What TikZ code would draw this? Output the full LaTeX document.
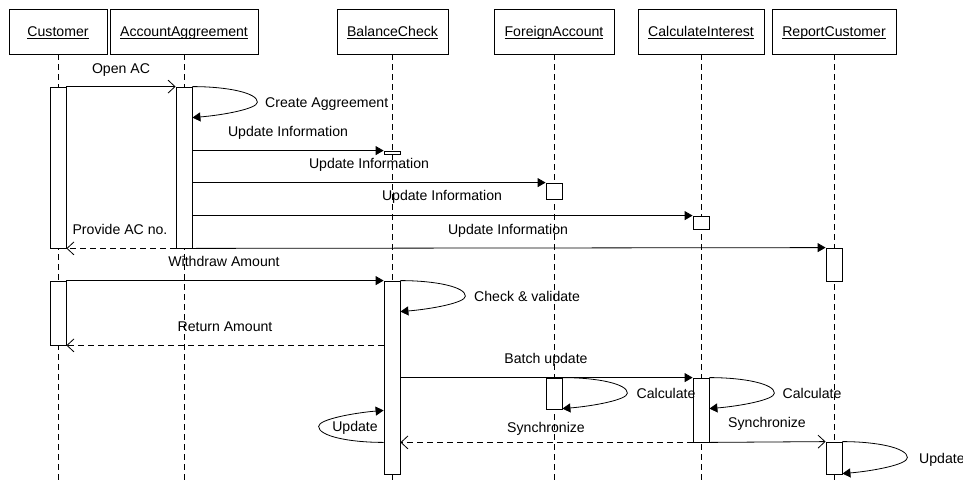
\documentclass[tikz,border=0pt]{standalone}
\usepackage{fontspec}
\setmainfont{Liberation Sans}
\usetikzlibrary{arrows.meta}
\newcommand\myul[1]{\sbox0{#1}\rlap{\rule[-2.2pt]{\wd0}{0.8pt}}\usebox0}
% self-message loop: #1 start point, #2 height (signed, down positive), #3 direction (1 right, -1 left)
\newcommand\drawloop[3]{\draw[msg] (#1) .. controls ([shift={(#3*35,0)}]#1) and ([shift={(#3*65,#2*0.2)}]#1) .. ([shift={(#3*65,#2*0.5)}]#1) .. controls ([shift={(#3*65,#2*0.72)}]#1) and ([shift={(#3*30,#2*0.92)}]#1) .. ([shift={(0,#2)}]#1);}
\begin{document}
\begin{tikzpicture}[x=1pt,y=-1pt,
  every node/.style={font=\fontsize{14.1pt}{16pt}\selectfont},
  head/.style={draw, line width=0.8pt, minimum height=45pt, inner sep=0pt, fill=white, text height=12pt, text depth=2pt},
  act/.style={draw, line width=0.8pt, fill=white, minimum width=16pt, inner sep=0pt},
  lifeline/.style={line width=0.8pt, dash pattern=on 6pt off 4pt},
  msg/.style={line width=0.8pt, -{Triangle[length=8pt,width=9pt]}},
  ret/.style={line width=0.8pt, dash pattern=on 6pt off 4pt, -{Straight Barb[length=7pt,width=13pt]}},
  async/.style={line width=0.8pt, -{Straight Barb[length=7pt,width=13pt]}},
  lbl/.style={inner sep=0pt, anchor=base}
]
\useasboundingbox (0,0) rectangle (963,482);
\coordinate (bot) at (0,482);
% heads
\node[head, minimum width=98pt]  (cust) at (58,31.5)    {\myul{Customer}};
\node[head, minimum width=148pt] (acag) at (184,31.5)   {\myul{AccountAggreement}};
\node[head, minimum width=111pt] (balc) at (392.5,31.5) {\myul{BalanceCheck}};
\node[head, minimum width=120pt] (fora) at (554,31.5)   {\myul{ForeignAccount}};
\node[head, minimum width=126pt] (calc) at (701,31.5)   {\myul{CalculateInterest}};
\node[head, minimum width=124pt] (repc) at (834,31.5)   {\myul{ReportCustomer}};
% lifelines
\foreach \h in {cust,acag,fora,calc,repc}{
  \draw[lifeline] (\h.south) -- (\h.south |- bot);
}
\draw[lifeline] (balc.south -| 392,0) -- (392,482);
% activations
\node[act, minimum height=161pt] (ca1) at (58,167.5) {};
\node[act, minimum height=161pt] (aa1) at (184,167.5) {};
\node[act, minimum height=3pt]   (bc1) at (392,152.5) {};
\node[act, minimum height=16pt]  (fa1) at (554,191) {};
\node[act, minimum height=13pt]  (ci1) at (701,222.5) {};
\node[act, minimum height=33pt]  (rc1) at (834,264.5) {};
\node[act, minimum height=64pt]  (ca2) at (58,313) {};
\node[act, minimum height=193pt] (bc2) at (392,377.5) {};
\node[act, minimum height=31pt]  (fa2) at (554,393.5) {};
\node[act, minimum height=64pt]  (ci2) at (701,410) {};
\node[act, minimum height=32pt]  (rc2) at (834,458) {};
% messages
\draw[async] (ca1.north east) -- (aa1.north west);
\drawloop{aa1.north east}{31}{1}
\draw[msg] (aa1.east |- bc1.north west) -- (bc1.north west);
\draw[msg] (aa1.east |- fa1.north west) -- (fa1.north west);
\draw[msg] (aa1.east |- ci1.north west) -- (ci1.north west);
\draw[msg] (aa1.south east) -- (rc1.north west);
\draw[ret] (aa1.south west) -- (ca1.south east);
\draw[msg] (ca2.north east) -- (bc2.north west);
\drawloop{bc2.north east}{31}{1}
\draw[ret] (bc2.west |- ca2.south east) -- (ca2.south east);
\draw[msg] (bc2.east |- ci2.north west) -- (ci2.north west);
\drawloop{fa2.north east}{31}{1}
\drawloop{ci2.north east}{31}{1}
\coordinate (bcl) at (bc2.west |- ci2.south west);
\drawloop{bcl}{-32}{-1}
\draw[ret] (ci2.south west) -- (bc2.east |- ci2.south west);
\draw[async] (ci2.south east) -- (rc2.north west);
\drawloop{rc2.north east}{32}{1}
% labels
\node[lbl] (l1) at (121,73) {Open AC};
\node[lbl, anchor=base west] (l2) at (265,107) {Create Aggreement};
\node[lbl] (l3) at (288,136) {Update Information};
\node[lbl] (l4) at (369,168) {Update Information};
\node[lbl] (l5) at (442,200) {Update Information};
\node[lbl] (l6) at (508,234) {Update Information};
\node[lbl] (l7) at (120,234) {Provide AC no.};
\node[lbl] (l8) at (224,266) {Withdraw Amount};
\node[lbl, anchor=base west] (l9) at (474,301) {Check \& validate};
\node[lbl] (l10) at (225,331) {Return Amount};
\node[lbl] (l11) at (546,363) {Batch update};
\node[lbl] (l12) at (666,398) {Calculate};
\node[lbl] (l13) at (812,398) {Calculate};
\node[lbl] (l14) at (546,432) {Synchronize};
\node[lbl] (l15) at (767,427) {Synchronize};
\node[lbl, anchor=base west] (l16) at (919,463) {Update};
\node[lbl] (l17) at (355,431) {Update};
\end{tikzpicture}
\end{document}
